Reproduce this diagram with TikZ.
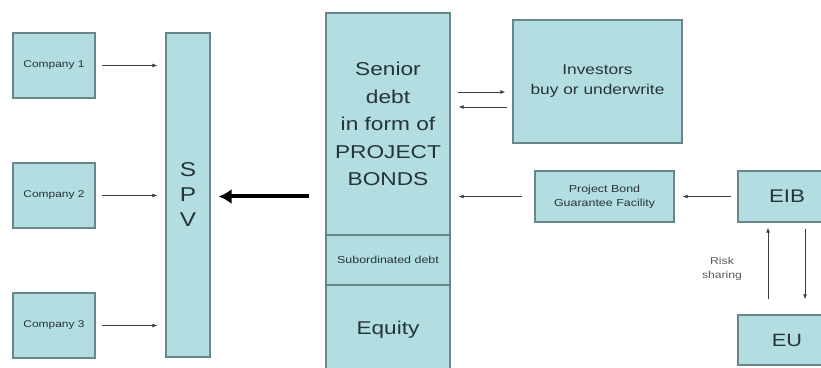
\documentclass[tikz,border=0pt]{standalone}
\usepackage{fontspec}
\setmainfont[FakeStretch=1.22]{Liberation Sans}
\usetikzlibrary{arrows.meta,calc}

\definecolor{boxfill}{RGB}{178,221,225}
\definecolor{boxline}{RGB}{105,135,138}
\definecolor{arrline}{RGB}{60,60,60}
\definecolor{boxtext}{RGB}{38,52,55}

\begin{document}
\begin{tikzpicture}[x=1pt,y=1pt,
    blk/.style={draw=boxline,fill=boxfill,line width=1.2pt,inner sep=0pt,align=center,text=boxtext},
    arr/.style={draw=arrline,line width=0.9pt,-{Latex[length=5pt,width=4pt]}},
    bigarr/.style={draw=black,line width=4pt,-{Latex[length=13pt,width=15pt]}}]
  \useasboundingbox (0,0) rectangle (821,367);
  \clip (0,0) rectangle (821,367);

  \node[blk,minimum width=82,minimum height=65,font=\fontsize{9.8}{12}\selectfont] (c1) at (54,301.5) {Company 1};
  \node[blk,minimum width=82,minimum height=65,font=\fontsize{9.8}{12}\selectfont] (c2) at (54,171.5) {Company 2};
  \node[blk,minimum width=82,minimum height=65,font=\fontsize{9.8}{12}\selectfont] (c3) at (54,41.5) {Company 3};

  \node[blk,minimum width=44,minimum height=324,font=\fontsize{20}{25}\selectfont] (spv) at (188,172) {S\\P\\V};

  % the financing column
  \node[blk,minimum width=124,minimum height=222,font=\fontsize{18.6}{27.5}\selectfont] (senior) at (388,243)
    {Senior\\debt\\in form of\\PROJECT\\BONDS};
  \node[blk,minimum width=124,minimum height=50,font=\fontsize{10.2}{12}\selectfont] (sub) at (388,107) {Subordinated debt};
  \node[blk,minimum width=124,minimum height=90,font=\fontsize{18.5}{22}\selectfont] (equity) at (388,37) {Equity};

  \node[blk,minimum width=169,minimum height=123,font=\fontsize{14.2}{20}\selectfont] (inv) at (597.5,285.5)
    {Investors\\buy or underwrite};
  \node[blk,minimum width=139,minimum height=51,font=\fontsize{10.2}{14}\selectfont] (pbgf) at (604.5,170.5)
    {Project Bond\\Guarantee Facility};
  \node[blk,minimum width=98,minimum height=51,font=\fontsize{18.3}{22}\selectfont] (eib) at (787,170.5) {EIB};
  \node[blk,minimum width=98,minimum height=50,font=\fontsize{17.8}{21}\selectfont] (eu) at (787,27) {EU};

  \draw[arr,shorten <=6pt,shorten >=8pt] (c1.east) -- (c1.east -| spv.west);
  \draw[arr,shorten <=6pt,shorten >=8pt] (c2.east) -- (c2.east -| spv.west);
  \draw[arr,shorten <=6pt,shorten >=8pt] (c3.east) -- (c3.east -| spv.west);

  \draw[bigarr,shorten <=16pt,shorten >=8pt] (pbgf.west -| senior.west) -- (pbgf.west -| spv.east);

  \draw[arr,shorten <=7pt,shorten >=7pt] ([yshift=-10.5pt]inv.west -| senior.east) -- ([yshift=-10.5pt]inv.west);
  \draw[arr,shorten <=5pt,shorten >=8pt] ([yshift=-25.5pt]inv.west) -- ([yshift=-25.5pt]inv.west -| senior.east);

  \draw[arr,shorten <=12pt,shorten >=8pt] (pbgf.west) -- (pbgf.west -| senior.east);
  \draw[arr,shorten <=6pt,shorten >=8pt] (eib.west) -- (pbgf.east);

  \draw[arr,shorten <=15pt,shorten >=5pt] ([xshift=-19pt]eu.north) -- ([xshift=-19pt]eib.south);
  \draw[arr,shorten <=6pt,shorten >=15pt] ([xshift=18pt]eib.south) -- ([xshift=18pt]eu.north);

  \node[align=center,font=\fontsize{10}{14}\selectfont,text=black!65] (risk) at (722,98) {Risk\\sharing};
\end{tikzpicture}
\end{document}
